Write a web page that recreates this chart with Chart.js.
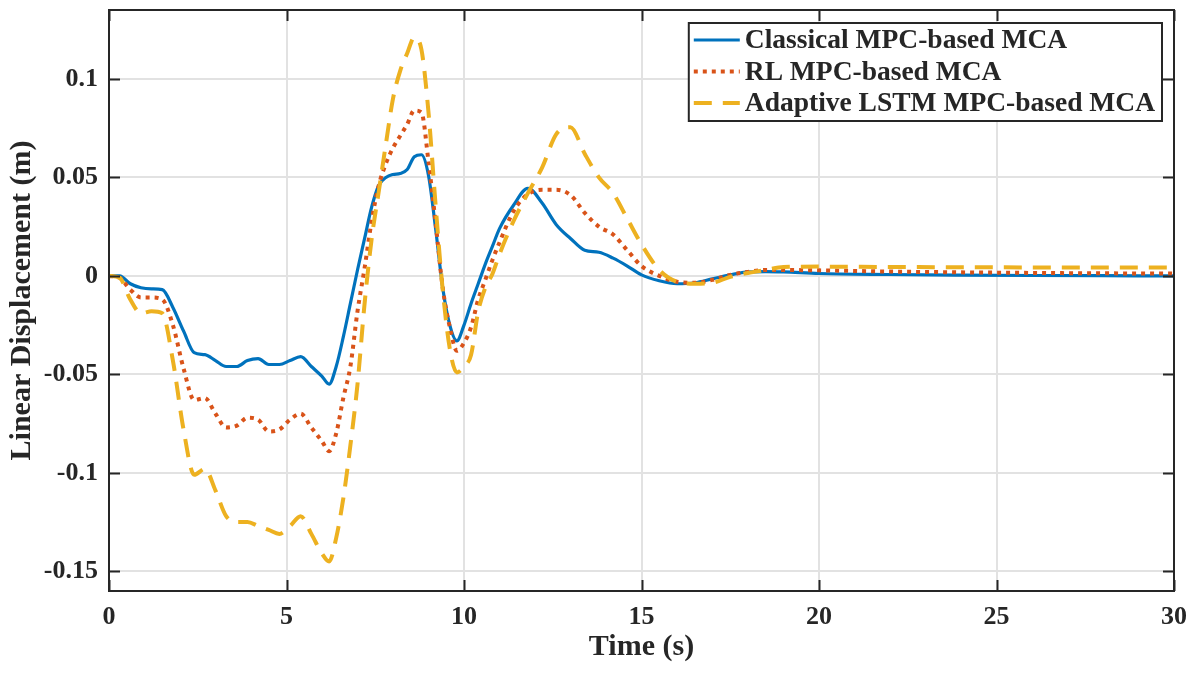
<!DOCTYPE html>
<html>
<head>
<meta charset="utf-8">
<script src="https://cdn.jsdelivr.net/npm/chart.js@4.4.1/dist/chart.umd.min.js"></script>
<style>
  html, body { margin: 0; padding: 0; background: #fff; }
  #wrap { width: 1196px; height: 673px; }
</style>
</head>
<body>
<div id="wrap"><canvas id="chart1"></canvas></div>
<script>
// time axis (s)
const timeSec = [
  0, 0.3, 0.6, 0.9, 1.2, 1.5, 1.8, 2.1, 2.4, 2.7,
  3.0, 3.3, 3.6, 3.9, 4.2, 4.5, 4.8, 5.1, 5.4, 5.7,
  6.0, 6.2, 6.4, 6.6, 6.8, 7.0, 7.2, 7.4, 7.6, 7.8,
  8.0, 8.2, 8.4, 8.6, 8.8, 9.0, 9.2, 9.4, 9.6, 9.8,
  10.0, 10.2, 10.4, 10.6, 10.8, 11.0,
  11.4, 11.8, 12.2, 12.6, 13.0, 13.4, 13.8, 14.2, 14.6, 15.0,
  15.5, 16.0, 16.5, 17.0, 17.5, 18.0, 18.5, 19,
  20, 22, 24, 26, 28, 30
];
// linear displacement (m)
const classicalMpc = [
  0, 0, -0.004, -0.006, -0.0066, -0.007, -0.016, -0.028, -0.039, -0.040,
  -0.043, -0.046, -0.046, -0.043, -0.042, -0.045, -0.045, -0.043, -0.041, -0.046,
  -0.051, -0.055, -0.046, -0.031, -0.014, 0.003, 0.019, 0.035, 0.046, 0.050,
  0.0515, 0.052, 0.054, 0.0605, 0.0615, 0.051, 0.024, -0.006, -0.025, -0.033,
  -0.025, -0.014, -0.004, 0.006, 0.015, 0.024,
  0.036, 0.0445, 0.037, 0.026, 0.019, 0.013, 0.012, 0.009, 0.005, 0.0005,
  -0.0025, -0.004, -0.0035, -0.0015, 0.0005, 0.002, 0.0022, 0.002,
  0.0012, 0.0007, 0.0004, 0.0002, 0.0001, 0
];
const rlMpc = [
  0, -0.001, -0.007, -0.011, -0.011, -0.012, -0.025, -0.047, -0.063, -0.062,
  -0.070, -0.077, -0.076, -0.072, -0.073, -0.079, -0.078, -0.073, -0.070, -0.077,
  -0.084, -0.089, -0.080, -0.062, -0.046, -0.018, 0.004, 0.028, 0.046, 0.057,
  0.065, 0.071, 0.077, 0.084, 0.083, 0.058, 0.027, -0.006, -0.026, -0.038,
  -0.034, -0.026, -0.012, -0.002, 0.008, 0.017,
  0.033, 0.0415, 0.0437, 0.0437, 0.041, 0.032, 0.025, 0.021, 0.013, 0.005,
  0.0, -0.003, -0.0035, -0.002, 0.0005, 0.002, 0.003, 0.003,
  0.0028, 0.0022, 0.0018, 0.0015, 0.0013, 0.0012
];
const adaptiveLstm = [
  0, -0.001, -0.012, -0.019, -0.018, -0.019, -0.043, -0.078, -0.101, -0.098,
  -0.109, -0.122, -0.125, -0.125, -0.127, -0.129, -0.131, -0.127, -0.122, -0.131,
  -0.141, -0.145, -0.133, -0.113, -0.086, -0.055, -0.014, 0.019, 0.043, 0.067,
  0.090, 0.104, 0.113, 0.121, 0.115, 0.083, 0.036, -0.007, -0.037, -0.049,
  -0.046, -0.040, -0.018, -0.006, 0.001, 0.011,
  0.028, 0.042, 0.055, 0.072, 0.0755, 0.062, 0.050, 0.042, 0.029, 0.016,
  0.003, -0.003, -0.004, -0.0035, -0.0005, 0.0015, 0.003, 0.0045,
  0.0047, 0.0045, 0.0044, 0.0043, 0.0042, 0.0042
];
const seriesNames = ['Classical MPC-based MCA', 'RL MPC-based MCA', 'Adaptive LSTM MPC-based MCA'];
const xTicks = [0, 5, 10, 15, 20, 25, 30];
const yTicks = [-0.15, -0.1, -0.05, 0, 0.05, 0.1];

const FONT = '"Liberation Serif", "Times New Roman", serif';
const INK = '#262626';

function toPoints(arr) {
  return timeSec.map((t, i) => ({ x: t, y: arr[i] }));
}

// box, inward tick marks and the legend, drawn on top of the lines
const frameLegend = {
  id: 'frameLegend',
  afterDraw(chart) {
    const ctx = chart.ctx;
    const a = chart.chartArea;
    const xs = chart.scales.x, ys = chart.scales.y;
    ctx.save();
    ctx.strokeStyle = INK;
    ctx.lineWidth = 2;
    ctx.setLineDash([]);
    const tl = 11;
    ctx.beginPath();
    xTicks.forEach(v => {
      const px = Math.round(xs.getPixelForValue(v)) + 0.5;
      ctx.moveTo(px, a.bottom); ctx.lineTo(px, a.bottom - tl);
      ctx.moveTo(px, a.top); ctx.lineTo(px, a.top + tl);
    });
    yTicks.forEach(v => {
      const py = Math.round(ys.getPixelForValue(v)) + 0.5;
      ctx.moveTo(a.left, py); ctx.lineTo(a.left + tl, py);
      ctx.moveTo(a.right, py); ctx.lineTo(a.right - tl, py);
    });
    ctx.stroke();
    ctx.strokeRect(a.left, a.top, a.right - a.left, a.bottom - a.top);

    // legend
    ctx.font = 'bold 27.5px ' + FONT;
    const widths = chart.data.datasets.map(d => ctx.measureText(d.label).width);
    const bw = 56 + Math.max(...widths) + 7;
    const bx = a.right - 12 - bw;
    const by = a.top + 13;
    const bh = 98;
    ctx.fillStyle = '#fff';
    ctx.fillRect(bx, by, bw, bh);
    ctx.lineWidth = 2;
    ctx.strokeStyle = INK;
    ctx.strokeRect(bx, by, bw, bh);
    chart.data.datasets.forEach((d, i) => {
      const cy = by + 17 + i * 31.5;
      ctx.beginPath();
      ctx.strokeStyle = d.borderColor;
      ctx.lineWidth = d.borderWidth;
      ctx.setLineDash(d.borderDash || []);
      ctx.moveTo(bx + 5, cy);
      ctx.lineTo(bx + 51, cy);
      ctx.stroke();
      ctx.setLineDash([]);
      ctx.fillStyle = INK;
      ctx.textAlign = 'left';
      ctx.textBaseline = 'middle';
      ctx.fillText(d.label, bx + 56, cy + 1);
    });
    ctx.restore();
  }
};

const config1 = {
  type: 'line',
  data: {
    datasets: [
      {
        label: seriesNames[0],
        data: toPoints(classicalMpc),
        borderColor: '#0072BD',
        borderWidth: 3.2,
        order: 3
      },
      {
        label: seriesNames[1],
        data: toPoints(rlMpc),
        borderColor: '#D95319',
        borderWidth: 4,
        borderDash: [4, 5],
        borderCapStyle: 'butt',
        order: 2
      },
      {
        label: seriesNames[2],
        data: toPoints(adaptiveLstm),
        borderColor: '#EDB120',
        borderWidth: 4,
        borderDash: [18, 11],
        borderCapStyle: 'butt',
        order: 1
      }
    ]
  },
  options: {
    responsive: true,
    maintainAspectRatio: false,
    animation: false,
    devicePixelRatio: 1,
    layout: { padding: { top: 10, right: 22, left: 0, bottom: 0 } },
    elements: {
      point: { radius: 0 },
      line: { cubicInterpolationMode: 'monotone', fill: false }
    },
    plugins: {
      legend: { display: false },
      tooltip: { enabled: false }
    },
    scales: {
      x: {
        type: 'linear',
        min: 0,
        max: 30,
        afterBuildTicks: s => { s.ticks = xTicks.map(v => ({ value: v })); },
        afterFit: s => { s.height = 82; s.paddingLeft = 0; s.paddingRight = 0; },
        grid: { color: '#e2e2e2', lineWidth: 2, drawTicks: false },
        border: { display: false },
        ticks: {
          padding: 11,
          color: INK,
          font: { family: FONT, size: 26, weight: 'bold' },
          maxRotation: 0,
          callback: v => String(v)
        },
        title: {
          display: true,
          text: 'Time (s)',
          color: INK,
          font: { family: FONT, size: 30, weight: 'bold' },
          padding: { top: 0, bottom: 8 }
        }
      },
      y: {
        type: 'linear',
        min: -0.16,
        max: 0.135,
        afterBuildTicks: s => { s.ticks = yTicks.map(v => ({ value: v })); },
        afterFit: s => { s.width = 109; s.paddingTop = 0; s.paddingBottom = 0; },
        grid: { color: '#e2e2e2', lineWidth: 2, drawTicks: false },
        border: { display: false },
        ticks: {
          padding: 11,
          color: INK,
          font: { family: FONT, size: 26, weight: 'bold' },
          callback: v => String(v)
        },
        title: {
          display: true,
          text: 'Linear Displacement (m)',
          color: INK,
          font: { family: FONT, size: 30, weight: 'bold' },
          padding: { top: 4, bottom: 0 }
        }
      }
    }
  },
  plugins: [frameLegend]
};

const ctx1 = document.getElementById('chart1').getContext('2d');
const chart1 = new Chart(ctx1, config1);
</script>
</body>
</html>
